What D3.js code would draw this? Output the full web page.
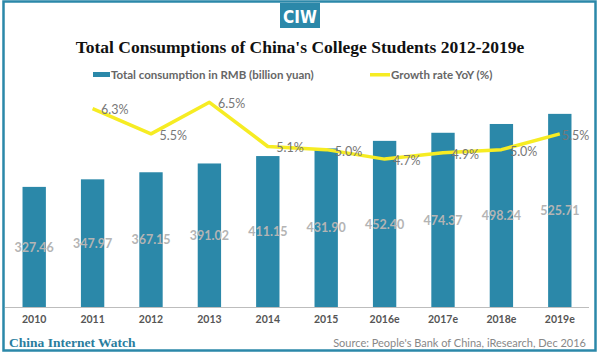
<!DOCTYPE html>
<html><head><meta charset="utf-8">
<script src="https://cdn.jsdelivr.net/npm/d3@7"></script>
<style>html,body{margin:0;padding:0;background:#fff;}svg{display:block;}</style>
</head><body>
<svg id="c" width="600" height="356"></svg>
<script>
const categories = ["2010","2011","2012","2013","2014","2015","2016e","2017e","2018e","2019e"];
const consumption = [327.46,347.97,367.15,391.02,411.15,431.90,452.40,474.37,498.24,525.71];
const consumptionLabels = ["327.46","347.97","367.15","391.02","411.15","431.90","452.40","474.37","498.24","525.71"];
const growth = [null,6.3,5.5,6.5,5.1,5.0,4.7,4.9,5.0,5.5];
const title = "Total Consumptions of China's College Students 2012-2019e";
const legendBar = "Total consumption in RMB (billion yuan)";
const legendLine = "Growth rate YoY (%)";
const footerLeft = "China Internet Watch";
const footerRight = "Source: People's Bank of China, iResearch, Dec 2016";

const svg = d3.select("#c");
const teal = "#2b88a9", yellow = "#f6ec23";

// frame
svg.append("rect").attr("x",3.5).attr("y",1.5).attr("width",592).attr("height",349)
  .attr("fill","none").attr("stroke",teal).attr("stroke-width",2.5);
// logo
svg.append("rect").attr("x",280).attr("y",3).attr("width",40).attr("height",25).attr("fill",teal);
svg.append("text").attr("x",300).attr("y",23).attr("text-anchor","middle")
  .attr("font-family","'Liberation Sans Narrow','DejaVu Sans Condensed',sans-serif").attr("font-weight","bold")
  .attr("font-size",17).attr("fill","#fff").text("CIW");

// title
svg.append("text").attr("x",300).attr("y",53).attr("text-anchor","middle")
  .attr("font-family","'Liberation Serif','DejaVu Serif',serif").attr("font-weight","bold")
  .attr("font-size",17.5).attr("fill","#111").text(title);

// legend
svg.append("rect").attr("x",93).attr("y",72).attr("width",17).attr("height",5).attr("fill",teal);
svg.append("text").attr("x",111).attr("y",79).attr("font-family","Lato,sans-serif").attr("font-weight","bold")
  .attr("font-size",11.5).attr("fill","#666").text(legendBar);
svg.append("rect").attr("x",370).attr("y",73).attr("width",20).attr("height",3.5).attr("fill",yellow);
svg.append("text").attr("x",391).attr("y",79).attr("font-family","Lato,sans-serif").attr("font-weight","bold")
  .attr("font-size",11.5).attr("fill","#666").text(legendLine);

// scales
const x = d3.scaleBand().domain(categories).range([5,589]).paddingInner(0.6).paddingOuter(0.3);
const y = d3.scaleLinear().domain([0,600]).range([307.5,86.5]);
const y2 = d3.scaleLinear().domain([0,7]).range([307.5,86.5]);

// bars
svg.append("g").selectAll("rect").data(categories).join("rect")
  .attr("x",d=>x(d)).attr("width",x.bandwidth())
  .attr("y",(d,i)=>y(consumption[i])).attr("height",(d,i)=>y(0)-y(consumption[i]))
  .attr("fill",teal);

// x axis
const ax = svg.append("g").attr("transform","translate(0,307.5)")
  .call(d3.axisBottom(x).tickSize(0).tickPadding(8));
ax.select(".domain").attr("stroke","#bdbdbd").attr("stroke-width",1.2).attr("d","M5,0H589");
ax.selectAll("text").attr("font-family","Lato,sans-serif").attr("font-weight","bold")
  .attr("font-size",10.5).attr("fill","#555");

// bar value labels
svg.append("g").selectAll("text").data(categories).join("text")
  .attr("x",d=>x(d)+x.bandwidth()/2)
  .attr("y",(d,i)=>(y(consumption[i])+y(0))/2)
  .attr("dy","0.35em").attr("text-anchor","middle")
  .attr("font-family","Lato,sans-serif").attr("font-weight","bold").attr("font-size",12.5)
  .attr("fill","#b4b4b4").text((d,i)=>consumptionLabels[i]);

// line
const pts = categories.map((c,i)=>({c, v:growth[i]})).filter(p=>p.v!=null);
const line = d3.line().x(p=>x(p.c)+x.bandwidth()/2).y(p=>y2(p.v));
svg.append("path").datum(pts).attr("d",line).attr("fill","none")
  .attr("stroke",yellow).attr("stroke-width",3.5).attr("stroke-linejoin","round");

// line labels
const lbl = svg.append("g").selectAll("text").data(pts).join("text")
  .attr("y",p=>y2(p.v)+1.5).attr("dy","0.35em")
  .attr("font-family","Lato,sans-serif").attr("font-size",12.5).attr("fill","#777")
  .text(p=>p.v.toFixed(1)+"%");
lbl.each(function(p){
  const w = this.getComputedTextLength();
  let px = x(p.c)+x.bandwidth()/2+8.5;
  if (px + w > 588) px = x(p.c)+x.bandwidth()/2+2;
  d3.select(this).attr("x",px);
});

// footer
svg.append("text").attr("x",9).attr("y",347)
  .attr("font-family","'Liberation Serif','DejaVu Serif',serif").attr("font-weight","bold")
  .attr("font-size",13.5).attr("fill","#2a7d9e").text(footerLeft);
svg.append("text").attr("x",586).attr("y",347).attr("text-anchor","end")
  .attr("font-family","Lato,sans-serif").attr("font-size",11).attr("fill","#888").text(footerRight);
</script>
</body></html>
